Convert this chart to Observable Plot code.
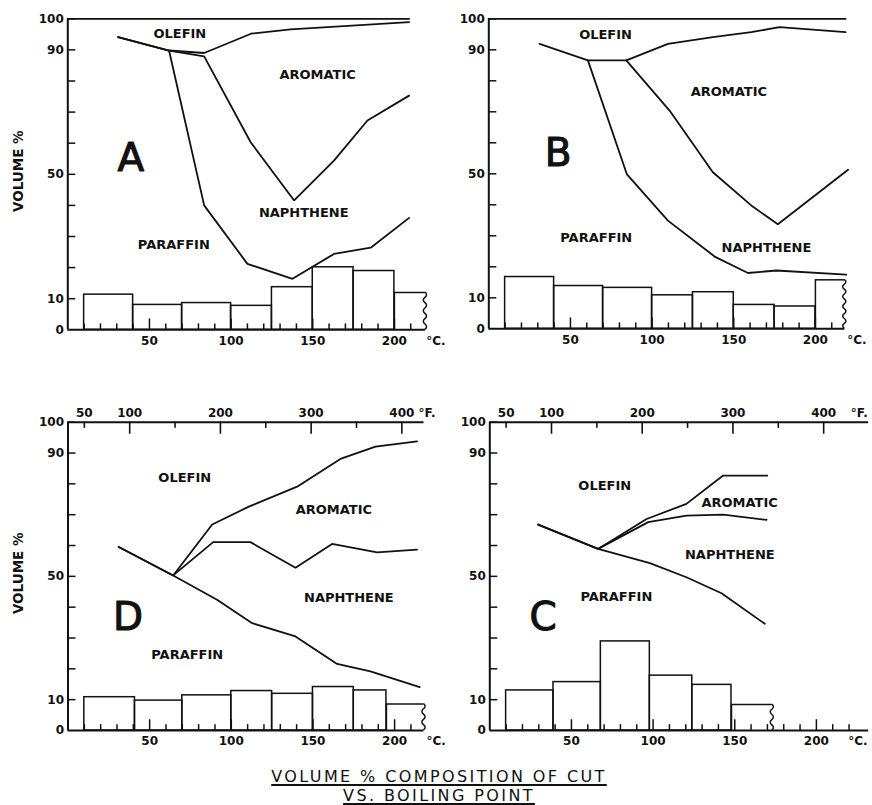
<!DOCTYPE html>
<html><head><meta charset="utf-8">
<script src="https://cdn.jsdelivr.net/npm/d3@7"></script>
<script src="https://cdn.jsdelivr.net/npm/@observablehq/plot@0.6"></script>
<style>
html,body{margin:0;padding:0;background:#fff;}
#wrap{position:relative;width:872px;height:805px;overflow:hidden;background:#fff;font-family:"DejaVu Sans",sans-serif;}
#wrap svg{position:absolute;overflow:visible;}
.title{position:absolute;left:0;width:878px;text-align:center;font-size:16px;line-height:16px;letter-spacing:2.4px;color:#111;
  text-decoration:underline;text-decoration-thickness:1.5px;text-underline-offset:1.5px;white-space:nowrap;}
</style></head><body>
<div id="wrap">
  <div class="title" style="top:769px">VOLUME % COMPOSITION OF CUT</div>
  <div class="title" style="top:788px">VS. BOILING POINT</div>
</div>
<script>
// ---------- axis tick values ----------
const yTicks = [10, 20, 30, 40, 50, 60, 70, 80, 90, 100];
const yLabels = [0, 10, 50, 90, 100];
const xLabels = [50, 100, 150, 200];
const cTicks210 = [10, 20, 30, 40, 50, 60, 70, 80, 90, 100, 110, 120, 130, 140, 150, 160, 170, 180, 190, 200, 210];
const cTicks220 = [10, 20, 30, 40, 50, 60, 70, 80, 90, 100, 110, 120, 130, 140, 150, 160, 170, 180, 190, 200, 210, 220];
const fTicks = [50, 100, 150, 200, 250, 300, 350, 400];
const fLabels = [50, 100, 200, 300, 400];

// ---------- Panel A ----------
const binsA = [10, 40, 70, 100, 125, 150, 175, 200, 219];
const barsA = [11.3, 8.0, 8.6, 7.7, 13.7, 20.1, 18.9, 12.0];
const topA = [[0, 100], [209, 100]];
const olefinBaseA = [[30.8, 94.1], [62.0, 89.8], [83.5, 89.0], [112.2, 95.2], [136.5, 96.6], [209, 98.9]];
const aromaticBaseA = [[62.0, 89.8], [83.5, 87.9], [112, 60.3], [138.6, 41.6], [163, 54.4], [183.5, 67.3], [209, 75.3]];
const paraffinTopA = [[30.8, 94.1], [62.0, 89.8], [83.5, 40.0], [110, 21.2], [137.6, 16.4], [163, 24.4], [185.5, 26.4], [209, 36.0]];
const labelsA = [["OLEFIN", 68.6, 95.3], ["AROMATIC", 153, 82.1], ["NAPHTHENE", 144.5, 37.7], ["PARAFFIN", 64.9, 27.4]];
const letterA = ["A", 38.6, 55.1];

// ---------- Panel B ----------
const binsB = [10, 40, 70, 100, 125, 150, 175, 200, 218];
const barsB = [16.7, 13.8, 13.2, 10.8, 11.8, 7.7, 7.2, 15.8];
const topB = [[0, 100], [218.5, 100]];
const olefinBaseB = [[31.1, 91.9], [60.7, 86.6], [84.2, 86.6], [109.7, 91.9], [137.2, 94.1], [160.7, 95.7], [178, 97.3], [218.5, 95.7]];
const aromaticBaseB = [[84.2, 86.6], [110.7, 70.4], [137.2, 50.5], [160.7, 39.8], [177, 33.7], [220, 51.3]];
const paraffinTopB = [[60.7, 86.6], [84.6, 49.8], [109.7, 34.9], [138.3, 23.3], [158.7, 18.0], [176, 18.8], [218.9, 17.5]];
const labelsB = [["OLEFIN", 71.5, 94.8], ["AROMATIC", 147, 76.3], ["NAPHTHENE", 170, 26.1], ["PARAFFIN", 65.8, 29.2]];
const letterB = ["B", 42.4, 56.5];

// ---------- Panel D ----------
const binsD = [10, 41, 70, 100, 125, 150, 175, 195, 218];
const barsD = [10.8, 9.7, 11.4, 12.8, 11.9, 14.1, 13.0, 8.6];
const olefinBaseD = [[31.1, 59.5], [64.4, 50.3], [88.3, 66.8], [110.7, 72.6], [140.3, 79.1], [166.8, 88.1], [188.3, 92.1], [213.8, 93.8]];
const aromaticBaseD = [[64.4, 50.3], [88.9, 61.1], [111.7, 61.1], [139.3, 52.8], [161.7, 60.5], [189.3, 57.8], [213.8, 58.7]];
const paraffinTopD = [[31.1, 59.5], [64.4, 50.3], [91.3, 42.4], [112.8, 34.8], [139.3, 30.5], [164.8, 21.6], [185.2, 19.2], [215.4, 14.1]];
const labelsD = [["OLEFIN", 71.5, 82.0], ["AROMATIC", 162.8, 71.6], ["NAPHTHENE", 172, 43.0], ["PARAFFIN", 73, 24.6]];
const letterD = ["D", 36.8, 36.5];

// ---------- Panel C ----------
const binsC = [10, 39, 68, 98, 124, 148, 173];
const barsC = [13.0, 15.7, 28.9, 17.8, 14.8, 8.4];
const olefinBaseC = [[29.6, 66.8], [66.3, 58.9], [96, 68.6], [120.4, 73.5], [142.9, 82.7], [169.9, 82.7]];
const aromaticBaseC = [[66.3, 58.9], [97, 67.6], [120.4, 69.7], [142.9, 70.0], [169.5, 68.3]];
const paraffinTopC = [[29.6, 66.8], [66.3, 58.9], [98, 54.3], [120.4, 49.7], [141.9, 44.5], [168.4, 34.6]];
const labelsC = [["OLEFIN", 70.4, 79.5], ["AROMATIC", 153, 74], ["NAPHTHENE", 147, 57.1], ["PARAFFIN", 77.5, 43.2]];
const letterC = ["C", 32.7, 36.7];

// ---------- drawing ----------
const INK = "#111";
const PX_PER_C = 1.633;
const F2C = f => (f - 32) * 5 / 9;

function wavyEdge(bar) {
  return function (...args) {
    const s = args.find(a => a && typeof a.x === "function" && typeof a.y === "function");
    const x = s.x(bar.x2), y0 = s.y(0), y1 = s.y(bar.h);
    const n = Math.max(2, Math.round((y0 - y1) / 5));
    const step = (y0 - y1) / n;
    let d = `M${x},${y1}`;
    for (let i = 0; i < n; i++) {
      const ya = y1 + step * i;
      d += ` Q${x + (i % 2 ? -3.2 : 3.2)},${ya + step / 2} ${x},${ya + step}`;
    }
    return d3.create("svg:path").attr("d", d).attr("fill", "none")
      .attr("stroke", INK).attr("stroke-width", 1.5).node();
  };
}

function panel(cfg) {
  const W = 436;
  const mr = W - cfg.ml - 220 * PX_PER_C;
  const n = cfg.bars.length;
  const full = cfg.bars.slice(0, -1).map((h, i) => ({x1: cfg.bins[i], x2: cfg.bins[i + 1], h}));
  const last = {x1: cfg.bins[n - 1], x2: cfg.bins[n], h: cfg.bars[n - 1]};
  const tick = {fill: INK, fontFamily: "DejaVu Sans", fontWeight: "bold", fontSize: 12};
  const marks = [
    Plot.ruleX([0], {y1: 0, y2: 100, stroke: INK, strokeWidth: 2}),
    Plot.ruleY([0], {x1: 0, x2: cfg.axisEnd, stroke: INK, strokeWidth: 2}),
    Plot.ruleY(yTicks, {x1: 0, x2: 4.9, stroke: INK, strokeWidth: 1.5}),
    Plot.ruleX(cfg.cTicks, {y1: 0, y2: d => d % 50 === 0 ? 3.5 : 1.9, stroke: INK, strokeWidth: 1.5}),
    Plot.text(xLabels, {x: d => d, y: 0, dy: 11, text: d => String(d), ...tick}),
    Plot.text(["°C."], {x: 219.5, y: 0, dy: 11, textAnchor: "start", ...tick}),
    Plot.text(yLabels, {x: 0, y: d => d, dx: -4, textAnchor: "end", text: d => String(d), ...tick}),
    Plot.rect(full, {x1: "x1", x2: "x2", y1: 0, y2: "h", fill: "none", stroke: INK, strokeWidth: 1.5}),
    Plot.ruleY([last], {x1: "x1", x2: "x2", y: "h", stroke: INK, strokeWidth: 1.5}),
    Plot.ruleX([last], {x: "x1", y1: 0, y2: "h", stroke: INK, strokeWidth: 1.5}),
    wavyEdge(last),
    ...cfg.lines.map(l => Plot.line(l, {x: d => d[0], y: d => d[1], stroke: INK, strokeWidth: 1.8, strokeLinejoin: "miter"})),
    Plot.text(cfg.labels, {x: d => d[1], y: d => d[2], text: d => d[0], fill: INK,
      fontFamily: "DejaVu Sans", fontWeight: "bold", fontSize: 13}),
    Plot.text([cfg.letter], {x: d => d[1], y: d => d[2], text: d => d[0], fill: INK, stroke: INK, strokeWidth: 1.1,
      fontFamily: "DejaVu Sans", fontSize: 39})
  ];
  if (cfg.yTitle) {
    marks.push(Plot.text(["VOLUME %"], {x: -30, y: 51, rotate: -90, fill: INK,
      fontFamily: "DejaVu Sans", fontWeight: "bold", fontSize: 13.5}));
  }
  if (cfg.fAxisEnd) {
    marks.push(
      Plot.ruleY([100], {x1: 0, x2: cfg.fAxisEnd, stroke: INK, strokeWidth: 2}),
      Plot.ruleX(fTicks, {x: F2C, y1: 100, y2: f => f % 100 === 0 ? 96.1 : 98, stroke: INK, strokeWidth: 1.6}),
      Plot.text(fLabels, {x: F2C, y: 100, dy: -9, text: d => String(d), ...tick}),
      Plot.text(["°F."], {x: cfg.fLabelX, y: 100, dy: -9, textAnchor: "start", ...tick})
    );
  }
  const svg = Plot.plot({
    width: W, height: cfg.H,
    marginLeft: cfg.ml, marginRight: mr, marginTop: cfg.mt, marginBottom: cfg.H - cfg.mt - cfg.plotH,
    x: {domain: [0, 220], axis: null},
    y: {domain: [0, 100], axis: null},
    style: {background: "transparent", overflow: "visible"},
    marks
  });
  svg.style.left = cfg.left + "px";
  svg.style.top = cfg.top + "px";
  return svg;
}

const wrap = document.getElementById("wrap");
wrap.append(
  panel({left: 0, top: 0, ml: 67.3, mt: 18.3, plotH: 311, H: 360, bins: binsA, bars: barsA,
    lines: [topA, olefinBaseA, aromaticBaseA, paraffinTopA], labels: labelsA, letter: letterA,
    axisEnd: 219, cTicks: cTicks210, yTitle: true}),
  panel({left: 436, top: 0, ml: 52.3, mt: 18.3, plotH: 310, H: 360, bins: binsB, bars: barsB,
    lines: [topB, olefinBaseB, aromaticBaseB, paraffinTopB], labels: labelsB, letter: letterB,
    axisEnd: 218, cTicks: cTicks210, yTitle: false}),
  panel({left: 0, top: 380, ml: 67.5, mt: 41.7, plotH: 308.3, H: 380, bins: binsD, bars: barsD,
    lines: [olefinBaseD, aromaticBaseD, paraffinTopD], labels: labelsD, letter: letterD,
    axisEnd: 218, cTicks: cTicks210, yTitle: true, fAxisEnd: 218, fLabelX: 214.6}),
  panel({left: 436, top: 380, ml: 53.3, mt: 41.7, plotH: 308.3, H: 380, bins: binsC, bars: barsC,
    lines: [olefinBaseC, aromaticBaseC, paraffinTopC], labels: labelsC, letter: letterC,
    axisEnd: 232, cTicks: cTicks220, yTitle: false, fAxisEnd: 232, fLabelX: 221})
);
</script>
</body></html>
